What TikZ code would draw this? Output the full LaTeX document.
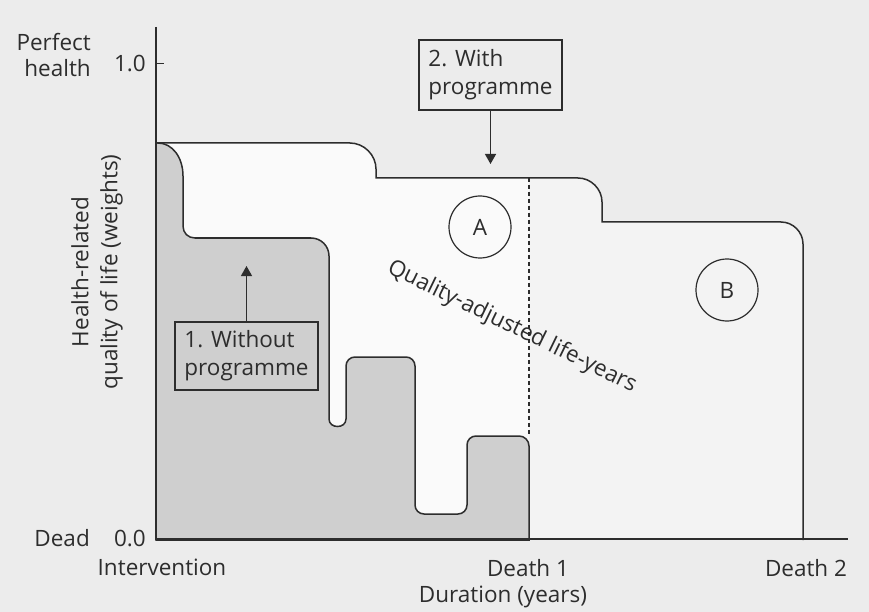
\documentclass[tikz,border=0pt]{standalone}
\usepackage{fontspec}
\setmainfont{Open Sans}
\usetikzlibrary{arrows.meta}
\definecolor{paper}{RGB}{236,236,236}
\definecolor{gainarea}{RGB}{250,250,250}
\definecolor{tailarea}{RGB}{243,243,243}
\definecolor{withoutfill}{RGB}{207,207,207}
\definecolor{ink}{RGB}{45,45,45}
\begin{document}
\begin{tikzpicture}[x=1pt,y=-1pt,
  lbl/.style={font=\fontsize{22.5}{28}\selectfont, text=ink, inner sep=0pt},
  curve/.style={draw=ink, line width=1.5pt},
  axisline/.style={draw=ink, line width=1.8pt},
  labelbox/.style={draw=ink, line width=1.6pt, lbl, align=left, minimum width=143pt},
  pointer/.style={draw=ink, line width=1.3pt, -{Triangle[length=10pt,width=11pt]}},
  areamark/.style={draw=ink, line width=1.2pt, circle, minimum size=62pt, lbl}]

\useasboundingbox (0,0) rectangle (869,612);
\fill[paper] (0,0) rectangle (869,612);

% area A: gain up to the first death
\fill[gainarea] (156,143) -- (350,143) .. controls (364,143) and (376,155) .. (376,169)
  -- (376,178) -- (529,178) -- (529,540) -- (156,540) -- cycle;
% area B: gain after the first death
\fill[tailarea] (529,178) -- (578,178) .. controls (591,178) and (602,189) .. (602,202)
  -- (602,222) -- (781,222) .. controls (793,222) and (803,232) .. (803,244)
  -- (803,540) -- (529,540) -- cycle;

% QALYs without the programme (shaded)
\filldraw[curve, fill=withoutfill] (156,143) -- (158,143)
  .. controls (172,143) and (183,157) .. (183,176) -- (183,226)
  .. controls (183,233) and (188,238) .. (195,238) -- (311,238)
  .. controls (321,238) and (329,246) .. (329,256) -- (329,419)
  .. controls (329,429) and (346,429) .. (346,419) -- (346,366)
  .. controls (346,361) and (350,357) .. (355,357) -- (406,357)
  .. controls (411,357) and (415,361) .. (415,366) -- (415,505)
  .. controls (415,510) and (419,514) .. (424,514) -- (458,514)
  .. controls (463,514) and (467,510) .. (467,505) -- (467,445)
  .. controls (467,440) and (471,436) .. (476,436) -- (519,436)
  .. controls (524.5,436) and (529,440.5) .. (529,446) -- (529,540)
  -- (156,540) -- cycle;

% QALYs with the programme
\draw[curve] (156,143) -- (350,143) .. controls (364,143) and (376,155) .. (376,169)
  -- (376,178) -- (578,178) .. controls (591,178) and (602,189) .. (602,202)
  -- (602,222) -- (781,222) .. controls (793,222) and (803,232) .. (803,244)
  -- (803,540);

% first death marker
\draw[ink, line width=1.1pt, dash pattern=on 4pt off 3pt] (529,178) -- (529,436);

% axes
\coordinate (ytop) at (156,27);
\coordinate (origin) at (156,539);
\coordinate (xend) at (848,539);
\draw[axisline] (ytop) -- (origin) -- (xend);
\draw[axisline] (156,63.5) -- (164,63.5);

% axis labels
\node[lbl, align=right, anchor=east, font=\fontsize{22.5}{26}\selectfont] (perfect) at (91,55) {Perfect\\health};
\node[lbl, anchor=east] (one) at (146,63.5) {1.0};
\node[lbl, anchor=east] (dead) at (90,538) {Dead};
\node[lbl, anchor=east] (zero) at (146,538) {0.0};
\node[lbl, align=center, rotate=90, font=\fontsize{22.5}{29}\selectfont] (ylabel) at (97,272)
  {Health-related\\quality of life (weights)};
\node[lbl] (interv) at (162,567) {Intervention};
\node[lbl] (death1) at (528,568) {Death 1};
\node[lbl] (death2) at (806,568) {Death 2};
\node[lbl] (xlabel) at (503,597) {Duration (years)};

% area markers
\node[areamark] (areaA) at (480,227) {A};
\node[areamark] (areaB) at (727,290) {B};
\node[lbl, rotate=-26] (qaly) at (512,327) {Quality-adjusted life-years};

% scenario boxes
\node[labelbox, minimum height=68pt] (without) at (246.5,356) {1. Without\\programme};
\coordinate (withouttip) at (246.5,266);
\draw[pointer] (without.north) -- (withouttip);
\node[labelbox, minimum height=70pt] (with) at (490.5,75) {2. With\\programme};
\coordinate (withtip) at (490.5,164);
\draw[pointer] (with.south) -- (withtip);
\end{tikzpicture}
\end{document}
